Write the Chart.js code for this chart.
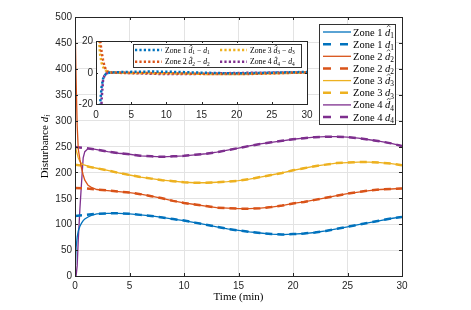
<!DOCTYPE html>
<html>
<head>
<meta charset="utf-8">
<script src="https://cdn.jsdelivr.net/npm/chart.js@4.4.0/dist/chart.umd.min.js"></script>
<style>
html, body { margin: 0; padding: 0; background: #fff; overflow: hidden; }
#wrap { position: relative; width: 471px; height: 310px; }
#main { position: absolute; left: 0; top: 0; }
#inset { position: absolute; left: -2000px; top: 0; }
</style>
</head>
<body>
<div id="wrap">
  <canvas id="main" width="471" height="310" style="width:471px;height:310px"></canvas>
  <canvas id="inset" width="471" height="310" style="width:471px;height:310px"></canvas>
</div>
<script>
// time axis for the true disturbances (min)
const timeMin = [0,1,2,3,4,5,6,7,8,9,10,11,12,13,14,15,16,17,18,19,20,21,22,23,24,25,26,27,28,29,30];
const d1 = [116,118,120,121,121,120,118,116,113,110,107,103,99,95,91,88,85,83,81,80,81,82,84,87,91,95,99,103,107,111,114];
const d2 = [170,169,167,165,163,161,158,154,150,145,141,138,135,132,131,130,130,131,133,136,140,143,147,151,155,159,162,165,167,168,169];
const d3 = [215,212,208,204,199,195,191,188,185,183,181,180,180,181,182,184,187,191,195,199,204,208,212,215,218,219,220,220,219,217,214];
const d4 = [249,247,244,240,237,235,232,231,230,231,232,234,236,239,243,247,251,255,258,261,264,266,268,269,269,268,266,263,260,256,251];

// start of the estimates, before they lock onto the true values
const tStart = [0,0.1,0.2,0.3,0.45,0.6,0.75,0.9,1.2,1.5];
const d1HatStart = [0,55,75,87,96,102,107,110,114,117];
const d2HatStart = [500,380,290,245,225,208,195,185,175,171];
const d3HatStart = [252,244,236,228,221,217,215,214,212,210];
const d4HatStart = [0,0,20,70,130,180,228,240,246,246];

// inset: estimation errors
const tErr = [0,0.2,0.4,0.6,0.8,1.0,1.2,1.4,1.7,2,3,4,6,8,10,12,14,16,18,20,22,24,26,28,30];
const e1 = [-116,-45,-28,-19,-9,-4,-2,-1,-0.3,0,0.2,0.3,0.5,0.6,0.5,0.3,0,-0.2,-0.4,-0.5,-0.4,-0.2,0,0.2,0.3];
const e2 = [330,60,30,20,13,8,4,2,0.5,0,-0.2,-0.3,-0.3,-0.4,-0.5,-0.6,-0.8,-1,-1,-1,-0.9,-0.7,-0.5,-0.2,0];
const e3 = [37,30,22,11,6,3.7,2,1.2,0.3,0,-0.1,-0.2,-0.3,-0.4,-0.5,-0.6,-0.8,-0.9,-1,-1,-0.8,-0.6,-0.4,-0.2,0];
const e4 = [-249,-230,-110,-45,-17,-5,-2,-0.8,-0.2,0,0,-0.2,-0.5,-0.8,-1,-1,-0.9,-0.7,-0.5,-0.3,-0.2,-0.1,0,0,0];

const xTicks = [0,5,10,15,20,25,30];
const colors = ['#0072BD', '#D95319', '#EDB120', '#7E2F8E'];
const SERIF = '"Liberation Serif", "DejaVu Serif", serif';
const SANS = '"Liberation Sans", Arial, sans-serif';

function pts(ts, vs) { return ts.map((t, i) => ({x: t, y: vs[i]})); }
function truePts(vs) { return pts(timeMin, vs); }
function hatPts(start, vs) {
  return pts(tStart, start).concat(pts(timeMin.slice(2), vs.slice(2)));
}

// draw text with italic d, optional hat and subscripts
function rich(ctx, x, y, parts, size, align, rot) {
  const font = p => (p.i ? 'italic ' : '') + (p.sub ? size * 0.7 : size) + 'px ' + SERIF;
  ctx.save();
  ctx.translate(x, y);
  if (rot) ctx.rotate(rot);
  ctx.textBaseline = 'alphabetic';
  ctx.textAlign = 'left';
  let w = 0;
  parts.forEach(p => { ctx.font = font(p); w += ctx.measureText(p.t).width; });
  let cx = align === 'center' ? -w / 2 : 0;
  parts.forEach(p => {
    ctx.font = font(p);
    const pw = ctx.measureText(p.t).width;
    ctx.fillText(p.t, cx, p.sub ? size * 0.22 : 0);
    if (p.hat) {
      ctx.beginPath();
      ctx.lineWidth = 0.6;
      ctx.strokeStyle = ctx.fillStyle;
      ctx.moveTo(cx + pw * 0.35, -size * 0.8);
      ctx.lineTo(cx + pw * 0.68, -size * 0.98);
      ctx.lineTo(cx + pw * 1.0, -size * 0.8);
      ctx.stroke();
    }
    cx += pw;
  });
  ctx.restore();
}

// box, inward tick marks and y tick labels
function frame(chart, len) {
  const {ctx, chartArea: a, scales: {x, y}} = chart;
  ctx.save();
  ctx.strokeStyle = '#262626';
  ctx.lineWidth = 1;
  ctx.beginPath();
  x.ticks.forEach(t => {
    const px = Math.round(x.getPixelForValue(t.value)) + 0.5;
    ctx.moveTo(px, a.bottom); ctx.lineTo(px, a.bottom - len);
    ctx.moveTo(px, a.top); ctx.lineTo(px, a.top + len);
  });
  y.ticks.forEach(t => {
    const py = Math.round(y.getPixelForValue(t.value)) + 0.5;
    ctx.moveTo(a.left, py); ctx.lineTo(a.left + len, py);
    ctx.moveTo(a.right, py); ctx.lineTo(a.right - len, py);
  });
  ctx.stroke();
  ctx.strokeRect(Math.round(a.left) + 0.5, Math.round(a.top) + 0.5,
    Math.round(a.right - a.left), Math.round(a.bottom - a.top));
  ctx.fillStyle = '#262626';
  ctx.font = '10px ' + SANS;
  ctx.textAlign = 'right';
  ctx.textBaseline = 'middle';
  y.ticks.forEach(t => {
    ctx.fillText(String(t.value), a.left - 3, y.getPixelForValue(t.value) + 0.5);
  });
  ctx.restore();
}

// ---- inset, rendered first on an offscreen canvas ----
const insetLegend = [1, 2, 3, 4].map(k => [{t: 'Zone ' + k + ' '}, {t: 'd', i: true, hat: true}, {t: String(k), sub: true}, {t: ' \u2212 '}, {t: 'd', i: true}, {t: String(k), sub: true}]);

const insetDecor = {
  id: 'insetDecor',
  beforeDraw(chart) {
    const {ctx, chartArea: a} = chart;
    ctx.save();
    ctx.fillStyle = '#fff';
    ctx.fillRect(a.left, a.top, a.right - a.left, a.bottom - a.top);
    ctx.restore();
  },
  afterDraw(chart) {
    const ctx = chart.ctx;
    frame(chart, 2);
    ctx.save();
    ctx.fillStyle = '#fff';
    ctx.fillRect(133, 44, 168, 23);
    ctx.strokeStyle = '#333';
    ctx.lineWidth = 1;
    ctx.strokeRect(133.5, 44.5, 168, 23);
    insetLegend.forEach((parts, i) => {
      const col = i < 2 ? 0 : 1;
      const row = i % 2;
      const x0 = col ? 220 : 135;
      const yy = row ? 61.7 : 50;
      ctx.beginPath();
      ctx.strokeStyle = colors[i];
      ctx.lineWidth = 2.5;
      ctx.setLineDash([2.2, 2.2]);
      ctx.moveTo(x0, yy); ctx.lineTo(x0 + 27, yy);
      ctx.stroke();
      ctx.setLineDash([]);
      ctx.fillStyle = '#000';
      rich(ctx, x0 + 30, yy + 2.6, parts, 7.7, 'left');
    });
    ctx.restore();
  }
};

const errs = [e1, e2, e3, e4];
const insetCanvas = document.getElementById('inset');
new Chart(insetCanvas, {
  type: 'line',
  data: {datasets: errs.map((e, k) => ({data: pts(tErr, e), borderColor: colors[k], borderWidth: 2.5, borderDash: [2.2, 2.2]}))},
  options: {
    responsive: false,
    animation: false,
    layout: {padding: {left: 70, top: 41, right: 164, bottom: 185}},
    elements: {point: {radius: 0}, line: {tension: 0}},
    plugins: {legend: {display: false}, tooltip: {enabled: false}},
    scales: {
      x: {
        type: 'linear', min: 0, max: 30,
        afterBuildTicks: s => { s.ticks = xTicks.map(v => ({value: v})); },
        afterFit: s => { s.height = 21; },
        grid: {display: false, drawTicks: false},
        border: {display: false},
        ticks: {padding: 5, color: '#262626', font: {family: SANS, size: 10}, maxRotation: 0}
      },
      y: {
        type: 'linear', min: -20, max: 20,
        afterBuildTicks: s => { s.ticks = [-20, 0, 20].map(v => ({value: v})); },
        afterFit: s => { s.width = 26; },
        grid: {display: false, drawTicks: false},
        border: {display: false},
        ticks: {display: false}
      }
    }
  },
  plugins: [insetDecor]
});

// ---- main chart ----
const mainLegend = [];
for (let k = 0; k < 4; k++) {
  mainLegend.push({c: colors[k], dash: false, parts: [{t: 'Zone ' + (k + 1) + ' '}, {t: 'd', i: true, hat: true}, {t: String(k + 1), sub: true}]});
  mainLegend.push({c: colors[k], dash: true, parts: [{t: 'Zone ' + (k + 1) + ' '}, {t: 'd', i: true}, {t: String(k + 1), sub: true}]});
}

const mainDecor = {
  id: 'mainDecor',
  afterDraw(chart) {
    const ctx = chart.ctx;
    frame(chart, 3);
    ctx.save();
    ctx.fillStyle = '#000';
    rich(ctx, 238.5, 300, [{t: 'Time (min)'}], 11, 'center');
    rich(ctx, 48, 146.5, [{t: 'Disturbance '}, {t: 'd', i: true}, {t: 'i', i: true, sub: true}], 11, 'center', -Math.PI / 2);
    // legend
    ctx.fillStyle = '#fff';
    ctx.fillRect(319, 24, 76, 100);
    ctx.strokeStyle = '#333';
    ctx.lineWidth = 1;
    ctx.strokeRect(319.5, 24.5, 76, 100);
    mainLegend.forEach((it, i) => {
      const yy = 32 + i * 12.15;
      ctx.beginPath();
      ctx.strokeStyle = it.c;
      ctx.lineWidth = it.dash ? 2.5 : 1.3;
      ctx.setLineDash(it.dash ? [8, 9] : []);
      ctx.moveTo(323, yy); ctx.lineTo(351, yy);
      ctx.stroke();
      ctx.setLineDash([]);
      ctx.fillStyle = '#000';
      rich(ctx, 353, yy + 3.5, it.parts, 10.5, 'left');
    });
    // paste the inset on top
    ctx.drawImage(insetCanvas, 0, 0);
    ctx.restore();
  }
};

const mainSets = [];
const trues = [d1, d2, d3, d4];
const hats = [d1HatStart, d2HatStart, d3HatStart, d4HatStart];
for (let k = 0; k < 4; k++) {
  mainSets.push({data: hatPts(hats[k], trues[k]), borderColor: colors[k], borderWidth: 1.3});
  mainSets.push({data: truePts(trues[k]), borderColor: colors[k], borderWidth: 2.5, borderDash: [7, 5]});
}

new Chart(document.getElementById('main'), {
  type: 'line',
  data: {datasets: mainSets},
  options: {
    responsive: false,
    animation: false,
    layout: {padding: {left: 0, top: 17, right: 69, bottom: 0}},
    elements: {point: {radius: 0}, line: {tension: 0}},
    plugins: {legend: {display: false}, tooltip: {enabled: false}},
    scales: {
      x: {
        type: 'linear', min: 0, max: 30,
        afterBuildTicks: s => { s.ticks = xTicks.map(v => ({value: v})); },
        afterFit: s => { s.height = 34; },
        grid: {color: '#e3e3e3', drawTicks: false},
        border: {display: false},
        ticks: {padding: 4, color: '#262626', font: {family: SANS, size: 10}, maxRotation: 0}
      },
      y: {
        type: 'linear', min: 0, max: 500,
        afterFit: s => { s.width = 75; },
        grid: {color: '#e3e3e3', drawTicks: false},
        border: {display: false},
        ticks: {stepSize: 50, display: false}
      }
    }
  },
  plugins: [mainDecor]
});
</script>
</body>
</html>
